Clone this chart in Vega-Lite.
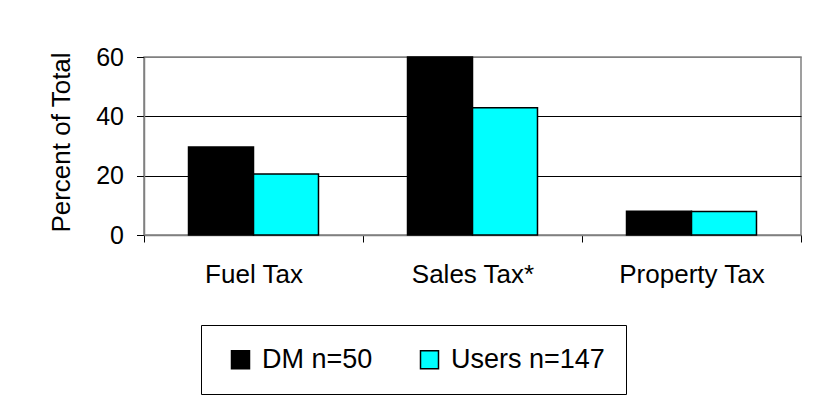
{
  "$schema": "https://vega.github.io/schema/vega-lite/v6.json",
  "width": 657,
  "height": 178,
  "autosize": {"type": "none"},
  "padding": {"left": 144, "top": 57, "right": 12, "bottom": 165},
  "background": "white",
  "data": {
    "values": [
      {"tax": "Fuel Tax", "group": "DM n=50", "pct": 29.7},
      {"tax": "Fuel Tax", "group": "Users n=147", "pct": 20.6},
      {"tax": "Sales Tax*", "group": "DM n=50", "pct": 60},
      {"tax": "Sales Tax*", "group": "Users n=147", "pct": 42.9},
      {"tax": "Property Tax", "group": "DM n=50", "pct": 8.0},
      {"tax": "Property Tax", "group": "Users n=147", "pct": 7.9}
    ]
  },
  "mark": {"type": "bar", "stroke": "black", "strokeWidth": 1.5},
  "encoding": {
    "x": {
      "field": "tax",
      "type": "nominal",
      "sort": ["Fuel Tax", "Sales Tax*", "Property Tax"],
      "scale": {"paddingInner": 0, "paddingOuter": 0},
      "axis": {
        "title": null,
        "labelAngle": 0,
        "tickBand": "extent",
        "tickSize": 7,
        "tickColor": "black",
        "domainColor": "#808080",
        "domainWidth": 1.5,
        "labelPadding": 19,
        "labelFontSize": 26,
        "labelColor": "black",
        "grid": false
      }
    },
    "xOffset": {
      "field": "group",
      "sort": ["DM n=50", "Users n=147"],
      "scale": {"paddingInner": 0, "paddingOuter": 0.685}
    },
    "y": {
      "field": "pct",
      "type": "quantitative",
      "scale": {"domain": [0, 60], "nice": false},
      "axis": {
        "values": [0, 20, 40, 60],
        "title": "Percent of Total",
        "titleFontSize": 26,
        "titleFontWeight": "normal",
        "titleColor": "black",
        "titleAngle": -90,
        "titleX": -75,
        "titleY": 85,
        "titleAlign": "center",
        "titleBaseline": "alphabetic",
        "labelFontSize": 25,
        "labelColor": "black",
        "labelPadding": 13,
        "tickSize": 7.5,
        "tickColor": "black",
        "domainColor": "#808080",
        "domainWidth": 1.5,
        "grid": true,
        "gridColor": {"condition": {"test": "datum.value === 60", "value": "#808080"}, "value": "black"},
        "gridWidth": 1
      }
    },
    "color": {
      "field": "group",
      "type": "nominal",
      "scale": {"domain": ["DM n=50", "Users n=147"], "range": ["black", "#00FFFF"]},
      "legend": {
        "title": null,
        "orient": "none",
        "legendX": 57,
        "legendY": 268,
        "direction": "horizontal",
        "strokeColor": "black",
        "fillColor": "white",
        "padding": 21,
        "symbolType": "square",
        "symbolSize": 324,
        "symbolStrokeWidth": 1.5,
        "symbolStrokeColor": "black",
        "symbolOffset": 5,
        "labelFontSize": 27,
        "labelColor": "black",
        "labelOffset": 8,
        "columnPadding": 38
      }
    }
  },
  "config": {
    "font": "Liberation Sans",
    "view": {"stroke": "#808080", "strokeWidth": 1.5}
  }
}
